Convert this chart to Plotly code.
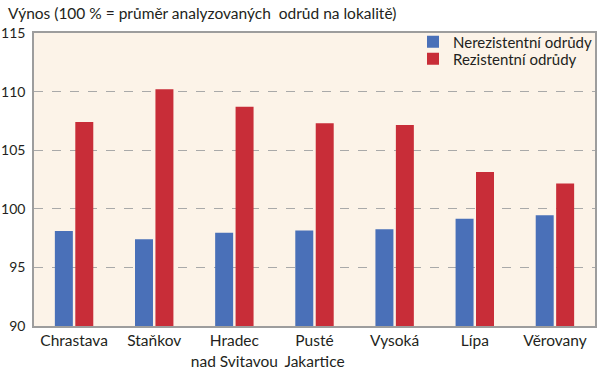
import plotly.graph_objects as go

categories = ["Chrastava", "Staňkov", "Hradec<br>nad Svitavou", "Pusté<br>Jakartice", "Vysoká", "Lípa", "Věrovany"]
nerezistentni = [98.1, 97.4, 97.95, 98.15, 98.25, 99.15, 99.45]
rezistentni = [107.4, 110.2, 108.7, 107.3, 107.15, 103.15, 102.15]
y_ticks = [90, 95, 100, 105, 110, 115]

FONT = "Lato"
TXT = "#231f20"

# plot area in pixels
L, T, R, B = 34, 33, 595, 326
W, H = R - L, B - T


def px_x(p):
    return (p - L) / W


def px_y(p):
    return (B - p) / H


fig = go.Figure()
fig.add_trace(go.Bar(x=categories, y=nerezistentni, name="Nerezistentní odrůdy",
                     marker=dict(color="#4a70b8", line=dict(width=0)), legend="legend"))
fig.add_trace(go.Bar(x=categories, y=rezistentni, name="Rezistentní odrůdy",
                     marker=dict(color="#c82d38", line=dict(width=0)), legend="legend2"))

leg_common = dict(xanchor="left", yanchor="middle", bgcolor="rgba(0,0,0,0)",
                  font=dict(size=15, color=TXT), itemwidth=30, itemclick=False,
                  borderwidth=0)

fig.update_layout(
    width=600, height=371,
    margin=dict(l=L, r=600 - R, t=T, b=371 - B, autoexpand=False),
    paper_bgcolor="white",
    plot_bgcolor="#fcf3e8",
    barmode="group",
    bargap=0.49,
    bargroupgap=0.12,
    font=dict(family=FONT, size=15, color=TXT),
    showlegend=True,
    legend=dict(x=px_x(413), y=px_y(42), **leg_common),
    legend2=dict(x=px_x(413), y=px_y(59), **leg_common),
    annotations=[dict(text="Výnos (100 % = průměr analyzovaných\u00a0 odrůd na lokalitě)",
                      x=px_x(6), y=px_y(13), xref="paper", yref="paper", showarrow=False,
                      xanchor="left", yanchor="middle",
                      font=dict(size=15.5, color=TXT))],
)

fig.update_xaxes(showline=True, linecolor="#9d9d9d", linewidth=1.5, mirror=True,
                 ticks="", tickfont=dict(size=15.5, color=TXT), showgrid=False,
                 automargin=False)
fig.update_yaxes(range=[90, 115], tickvals=y_ticks, showline=True, linecolor="#9d9d9d",
                 linewidth=1.5, mirror=True, ticks="", showgrid=True,
                 gridcolor="#a9a9a9", griddash="dash", gridwidth=1,
                 tickfont=dict(size=14, color=TXT), zeroline=False, automargin=False,
                 ticklabelstandoff=4)

fig.write_html("out.html", config={"displayModeBar": False},
               post_script="document.body.style.margin='0';")
